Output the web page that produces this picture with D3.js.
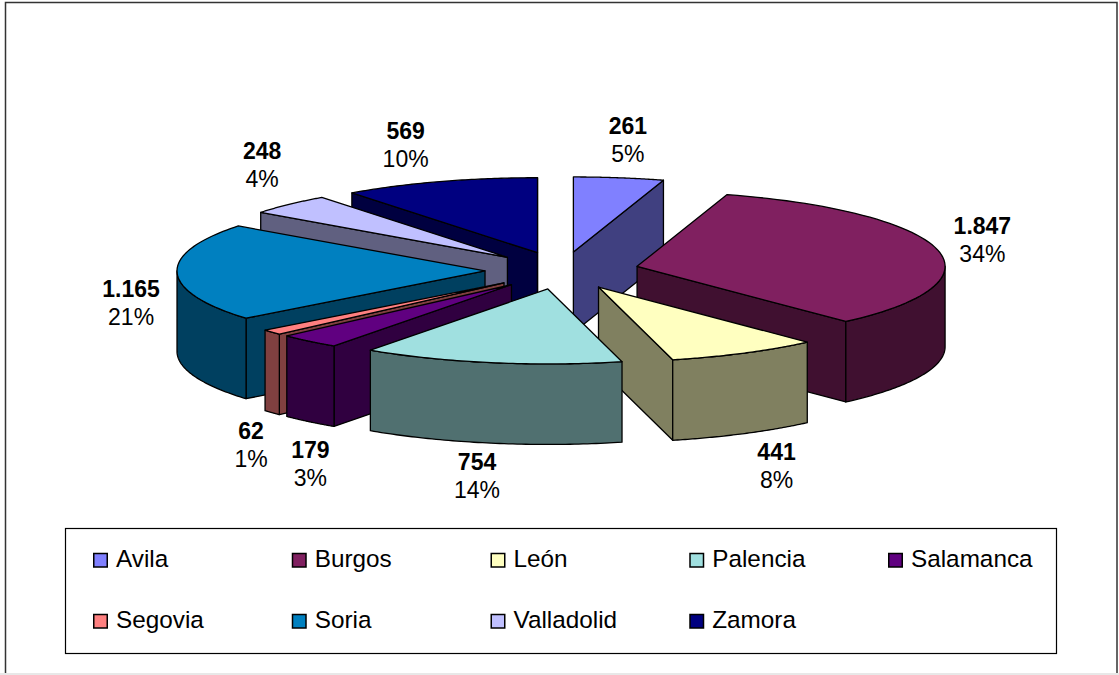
<!DOCTYPE html>
<html>
<head>
<meta charset="utf-8">
<script src="https://cdn.jsdelivr.net/npm/d3@7"></script>
<style>
  html, body { margin: 0; padding: 0; background: #fff; }
  svg { display: block; }
  text { font-family: "Liberation Sans", Arial, sans-serif; }
</style>
</head>
<body>
<div id="chart"></div>
<script>
// Values
const provinces = ['Avila', 'Burgos', 'León', 'Palencia', 'Salamanca', 'Segovia', 'Soria', 'Valladolid', 'Zamora'];
const values = [261, 1847, 441, 754, 179, 62, 1165, 248, 569];
const valueLabels = ['261', '1.847', '441', '754', '179', '62', '1.165', '248', '569'];
const percentLabels = ['5%', '34%', '8%', '14%', '3%', '1%', '21%', '4%', '10%'];
const topColors = ['#8080ff', '#802060', '#ffffc0', '#a0e0e0', '#600080', '#ff8080', '#0080c0', '#c0c0ff', '#000080'];

const width = 1119, height = 675;
const depth = 80.5;
const explode = 0.25;

// unit circle -> screen, the pie is squashed into an ellipse
const xScale = d3.scaleLinear().domain([-1, 1]).range([562 - 308, 562 + 308]);
const yScale = d3.scaleLinear().domain([-1, 1]).range([270.5 - 75, 270.5 + 75]);

const svg = d3.select('#chart').append('svg')
    .attr('width', width)
    .attr('height', height);

// chart frame, the bottom edge is only a pale strip
svg.append('rect')
    .attr('x', 0).attr('y', 673)
    .attr('width', width).attr('height', 2)
    .attr('fill', '#e8e8e8');
svg.append('path')
    .attr('d', 'M5.5,673V2.5H1117V673')
    .attr('fill', 'none')
    .attr('stroke', '#333')
    .attr('stroke-width', 1.5);

const pie = d3.pie().sort(null).value(d => d);
const slices = pie(values).map((d, i) => {
    const mid = (d.startAngle + d.endAngle) / 2;
    return {
        i,
        start: d.startAngle,
        end: d.endAngle,
        mid,
        // explosion offset, in unit circle terms
        ox: explode * Math.sin(mid),
        oy: -explode * Math.cos(mid)
    };
});

const line = d3.line().x(p => p[0]).y(p => p[1]);

function rim(s, a, drop) {
    return [xScale(s.ox + Math.sin(a)), yScale(s.oy - Math.cos(a)) + (drop || 0)];
}
function apex(s, drop) {
    return [xScale(s.ox), yScale(s.oy) + (drop || 0)];
}
function arcPoints(s, a0, a1, drop) {
    return d3.range(0, 61).map(k => rim(s, a0 + (a1 - a0) * k / 60, drop));
}

const pieG = svg.append('g');

// back to front
const order = slices.slice().sort((a, b) => Math.cos(b.mid) - Math.cos(a.mid));

order.forEach(s => {
    const g = pieG.append('g');
    const top = d3.color(topColors[s.i]);
    const wall = d3.rgb(top.r / 2, top.g / 2, top.b / 2).formatHex();

    const drawSide = pts => g.append('path')
        .attr('d', line(pts) + 'Z')
        .attr('fill', wall)
        .attr('stroke', '#000')
        .attr('stroke-width', 1.3)
        .attr('stroke-linejoin', 'round');

    // cut faces, only the ones turned towards us
    if (Math.sin(s.start) < 0) {
        drawSide([apex(s), rim(s, s.start), rim(s, s.start, depth), apex(s, depth)]);
    }
    if (Math.sin(s.end) > 0) {
        drawSide([apex(s), rim(s, s.end), rim(s, s.end, depth), apex(s, depth)]);
    }

    // outer wall, front half of the ellipse only
    const a0 = Math.max(s.start, Math.PI / 2);
    const a1 = Math.min(s.end, Math.PI * 1.5);
    if (a1 > a0) {
        drawSide(arcPoints(s, a0, a1).concat(arcPoints(s, a1, a0, depth)));
    }

    g.append('path')
        .attr('d', line([apex(s)].concat(arcPoints(s, s.start, s.end))) + 'Z')
        .attr('fill', topColors[s.i])
        .attr('stroke', '#000')
        .attr('stroke-width', 1.3)
        .attr('stroke-linejoin', 'round');
});

// label nudges from the rim point of each slice
const labelNudge = [[9, -37], [45, -9], [32, 114], [-14, 114], [1, 124], [-21, 114], [-46, 32], [-27, -38], [-34, -36]];
const labelR = 1.25;

const labels = svg.append('g').selectAll('g')
    .data(slices)
    .join('g')
    .attr('transform', s => {
        const lx = xScale(labelR * Math.sin(s.mid)) + labelNudge[s.i][0];
        const ly = yScale(-labelR * Math.cos(s.mid)) + labelNudge[s.i][1];
        return `translate(${lx},${ly})`;
    })
    .attr('text-anchor', 'middle')
    .attr('font-size', 23)
    .attr('fill', '#000');

labels.append('text')
    .attr('y', -7)
    .attr('font-weight', 'bold')
    .text(s => valueLabels[s.i]);
labels.append('text')
    .attr('y', 21)
    .text(s => percentLabels[s.i]);

// legend
const legendG = svg.append('g');
legendG.append('rect')
    .attr('x', 65.5).attr('y', 528.5)
    .attr('width', 991).attr('height', 125)
    .attr('fill', '#fff').attr('stroke', '#000')
    .attr('stroke-width', 1.2);

const colX = d3.scalePoint().domain(d3.range(5)).range([93, 888]);
const rowY = d3.scalePoint().domain(d3.range(2)).range([560, 621]);

const items = legendG.selectAll('g.item')
    .data(provinces)
    .join('g')
    .attr('class', 'item')
    .attr('transform', (d, i) => `translate(${colX(i % 5)},${rowY(Math.floor(i / 5))})`);

items.append('rect')
    .attr('x', 0.75).attr('y', -6.5)
    .attr('width', 13.5).attr('height', 13.5)
    .attr('fill', (d, i) => topColors[i])
    .attr('stroke', '#000')
    .attr('stroke-width', 1.5);

items.append('text')
    .attr('x', 23)
    .attr('y', 6.5)
    .attr('font-size', 24.3)
    .text(d => d);
</script>
</body>
</html>
